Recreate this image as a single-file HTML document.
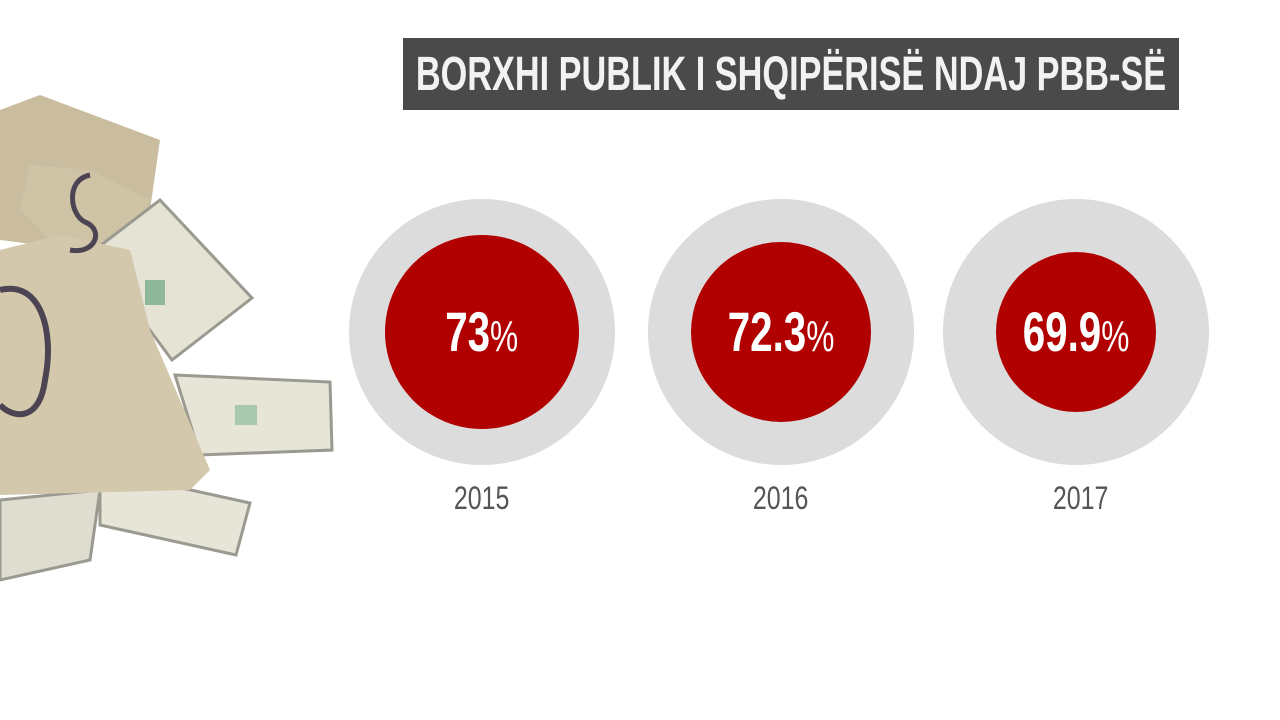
<!DOCTYPE html>
<html><head><meta charset="utf-8"><style>
html,body{margin:0;padding:0;background:#fff;width:1280px;height:720px;overflow:hidden;position:relative;font-family:"Liberation Sans",sans-serif}
.title{position:absolute;left:403px;top:38px;width:776px;height:72px;background:#4a4a4a;overflow:hidden}
.title span{position:absolute;left:50%;top:0;color:#f2f2f2;font-weight:bold;font-size:48px;line-height:74px;white-space:nowrap;transform:translateX(-50%) scaleX(0.714)}
.g{position:absolute;width:266px;height:266px;border-radius:50%;background:#dcdcdc}
.r{position:absolute;border-radius:50%;background:#b00000}
.v{position:absolute;top:300px;color:#fff;font-size:56px;font-weight:bold;text-align:center;width:300px;line-height:64px}
.v span{display:inline-block;transform:scaleX(0.72)}
.v small{font-weight:normal;font-size:44px}
.y{position:absolute;top:478px;width:200px;text-align:center;color:#555;font-size:32px;line-height:40px}
.y span{display:inline-block;transform:scaleX(0.78)}
</style></head><body>
<svg width="360" height="660" style="position:absolute;left:0;top:0">
<polygon points="0,110 40,95 80,110 160,140 150,210 80,250 0,240" fill="#c9bc9f"/>
<polygon points="30,165 90,170 150,200 140,250 60,250 20,210" fill="#cfc3a6"/>
<polygon points="92,252 160,200 252,298 172,360" fill="#e4e3d4" stroke="#9a9a90" stroke-width="3"/>
<polygon points="175,375 330,382 332,450 200,455" fill="#e6e5d8" stroke="#9a9a90" stroke-width="3"/>
<polygon points="100,470 250,503 236,555 100,525" fill="#e6e5d8" stroke="#9a9a90" stroke-width="3"/>
<polygon points="0,500 100,490 90,560 0,580" fill="#deddd0" stroke="#9a9a90" stroke-width="3"/>
<polygon points="0,250 60,235 130,250 150,330 180,400 210,470 190,490 0,495" fill="#d3c8ab"/>
<path d="M0,290 C40,280 55,330 45,380 C40,420 15,420 0,405" fill="none" stroke="#4c4452" stroke-width="6"/>
<path d="M90,175 C65,180 70,215 85,222 C105,230 95,255 70,250" fill="none" stroke="#4c4452" stroke-width="5"/>
<rect x="145" y="280" width="20" height="25" fill="#8fb89a"/>
<rect x="235" y="405" width="22" height="20" fill="#a9c8b0"/>
</svg>
<div class="title"><span>BORXHI PUBLIK I SHQIPËRISË NDAJ PBB-SË</span></div>
<div class="g" style="left:349px;top:199px"></div>
<div class="g" style="left:648px;top:199px"></div>
<div class="g" style="left:943px;top:199px"></div>
<div class="r" style="left:385px;top:235px;width:194px;height:194px"></div>
<div class="r" style="left:691px;top:242px;width:180px;height:180px"></div>
<div class="r" style="left:996px;top:252px;width:160px;height:160px"></div>
<div class="v" style="left:332px"><span>73<small>%</small></span></div>
<div class="v" style="left:631px"><span>72.3<small>%</small></span></div>
<div class="v" style="left:926px"><span>69.9<small>%</small></span></div>
<div class="y" style="left:382px"><span>2015</span></div>
<div class="y" style="left:681px"><span>2016</span></div>
<div class="y" style="left:981px"><span>2017</span></div>
</body></html>
